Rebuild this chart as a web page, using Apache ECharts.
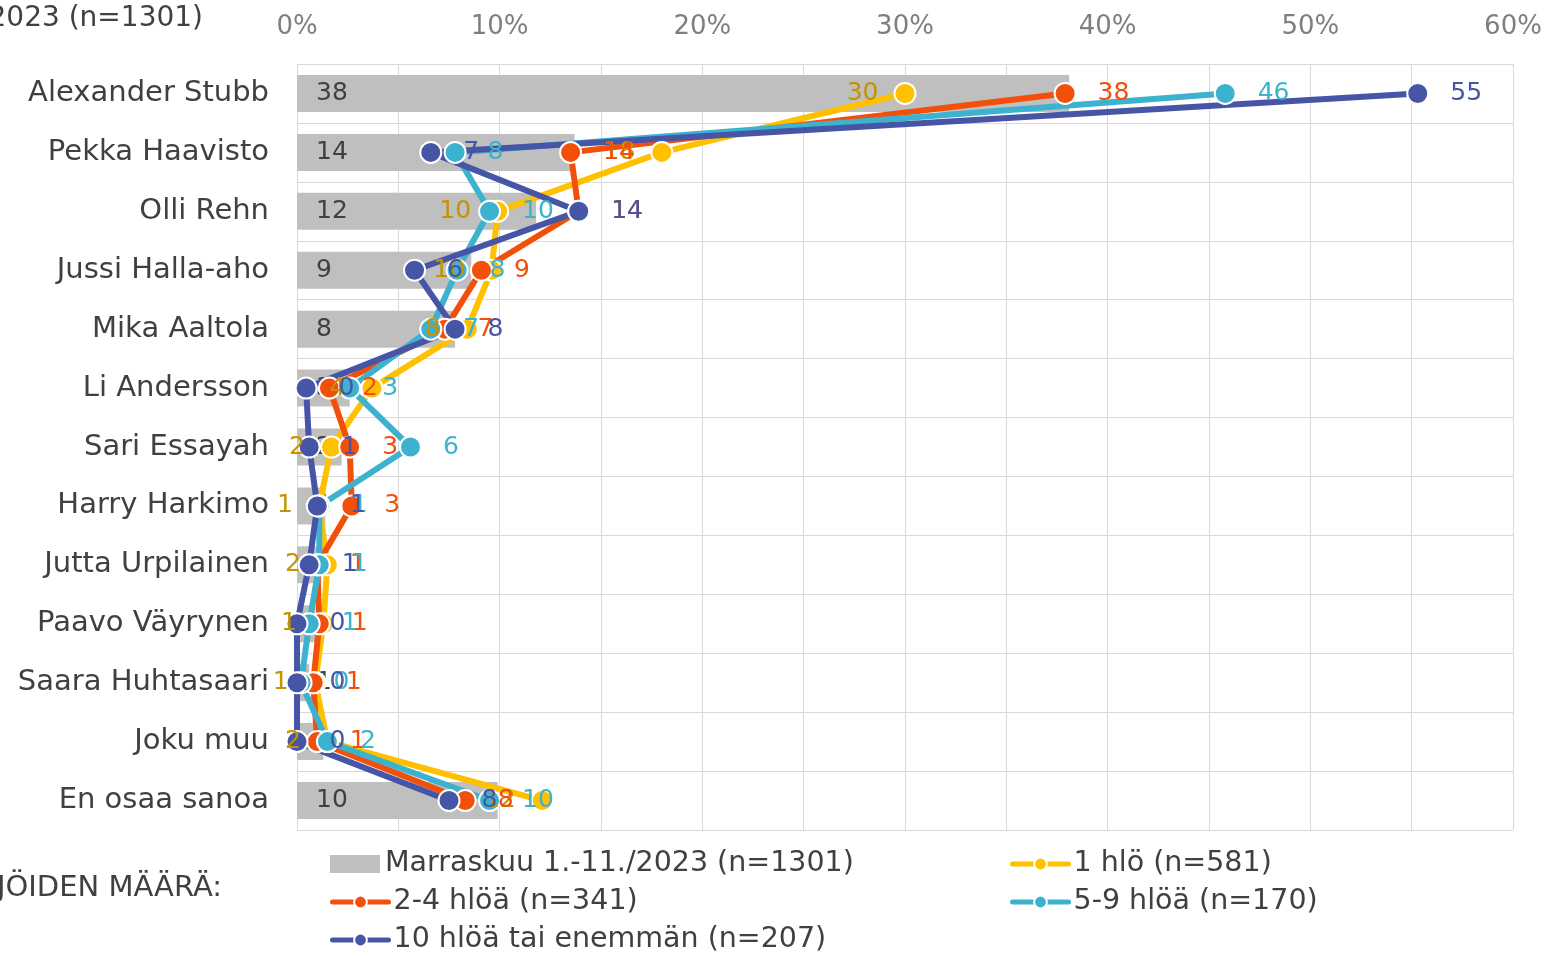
<!DOCTYPE html>
<html>
<head>
<meta charset="utf-8">
<script src="https://cdn.jsdelivr.net/npm/echarts@6/dist/echarts.min.js"></script>
<style>html,body{margin:0;padding:0;background:#fff;}#chart{width:1547px;height:956px;}</style>
</head>
<body>
<div id="chart"></div>
<script>
const categories = ['Alexander Stubb','Pekka Haavisto','Olli Rehn','Jussi Halla-aho','Mika Aaltola','Li Andersson','Sari Essayah','Harry Harkimo','Jutta Urpilainen','Paavo Väyrynen','Saara Huhtasaari','Joku muu','En osaa sanoa'];
const totalName = 'Marraskuu 1.-11./2023 (n=1301)';
const total = [38.1, 13.7, 11.8, 8.6, 7.8, 2.6, 2.2, 1.4, 1.2, 0.9, 0.6, 1.3, 9.9];
const s1Name = '1 hlö (n=581)';
const s1 = [30.0, 18.0, 9.9, 9.6, 8.4, 3.7, 1.7, 1.1, 1.5, 1.3, 0.9, 1.5, 12.1];
const s2Name = '2-4 hlöä (n=341)';
const s2 = [37.9, 13.5, 13.9, 9.1, 7.3, 1.6, 2.6, 2.7, 1.0, 1.1, 0.8, 1.0, 8.3];
const s3Name = '5-9 hlöä (n=170)';
const s3 = [45.8, 7.8, 9.5, 7.9, 6.6, 2.6, 5.6, 1.1, 1.1, 0.6, 0.2, 1.5, 9.5];
const s4Name = '10 hlöä tai enemmän (n=207)';
const s4 = [55.3, 6.6, 13.9, 5.8, 7.8, 0.45, 0.6, 1.0, 0.6, 0.0, 0.0, 0.0, 7.5];
const xTicks = [0, 10, 20, 30, 40, 50, 60];

const FONT = 'DejaVu Sans';
const chart = echarts.init(document.getElementById('chart'));

function lineSeries(name, vals, color, labelColor, pos, dist) {
  return {
    type: 'line', name: name,
    data: vals.map((v, i) => [v, categories[i]]),
    symbol: 'circle', symbolSize: 21,
    lineStyle: { color: color, width: 6 },
    itemStyle: { color: color, borderColor: '#fff', borderWidth: 2 },
    label: {
      show: true, position: pos, distance: dist,
      color: labelColor, fontFamily: FONT, fontSize: 25,
      formatter: p => Math.round(p.value[0])
    },
    emphasis: { disabled: true },
    animation: false
  };
}

function legendAt(name, left, top, isBar) {
  return {
    data: [name], left: left, top: top, orient: 'horizontal', padding: 0,
    itemWidth: isBar ? 50 : 56, itemHeight: isBar ? 18 : 16,
    icon: isBar ? 'rect' : undefined,
    lineStyle: { width: 5, cap: 'round' },
    textStyle: { fontFamily: FONT, fontSize: 28.5, color: '#404040', lineHeight: 30 },
    selectedMode: false
  };
}

chart.setOption({
  animation: false,
  grid: { left: 297, right: 34, top: 64, bottom: 126, containLabel: false },
  xAxis: {
    type: 'value', position: 'top', min: 0, max: 60, interval: 5,
    axisLine: { show: false }, axisTick: { show: false },
    axisLabel: {
      fontFamily: FONT, fontSize: 26, color: '#7F7F7F', margin: 24,
      formatter: v => xTicks.indexOf(v) >= 0 ? v + '%' : ''
    },
    splitLine: { show: true, lineStyle: { color: '#D9D9D9', width: 1 } }
  },
  yAxis: {
    type: 'category', data: categories, inverse: true,
    axisLine: { show: false }, axisTick: { show: false },
    axisLabel: { fontFamily: FONT, fontSize: 29, color: '#404040', margin: 28 },
    splitLine: { show: true, interval: 0, lineStyle: { color: '#D9D9D9', width: 1 } }
  },
  legend: [
    legendAt(totalName, 330, 849, true),
    legendAt(s1Name, 1010, 849, false),
    legendAt(s2Name, 330, 887, false),
    legendAt(s3Name, 1010, 887, false),
    legendAt(s4Name, 330, 925, false)
  ],
  graphic: [
    { type: 'text', x: 203, y: 19,
      style: { text: 'Marraskuu 1.-11./2023 (n=1301)', fill: '#404040', font: '28px "DejaVu Sans"', textAlign: 'right', textVerticalAlign: 'middle' } },
    { type: 'text', x: 222, y: 888,
      style: { text: 'TYÖNTEKIJÖIDEN MÄÄRÄ:', fill: '#404040', font: '29px "DejaVu Sans"', textAlign: 'right', textVerticalAlign: 'middle' } }
  ],
  series: [
    {
      type: 'bar', name: totalName, data: total, barWidth: 37,
      itemStyle: { color: '#BFBFBF' },
      label: { show: true, position: 'insideLeft', distance: 19, color: '#404040', fontFamily: FONT, fontSize: 25,
               formatter: p => Math.round(p.value) },
      emphasis: { disabled: true }
    },
    lineSeries(s1Name, s1, '#FFC000', '#C49300', 'left', 15),
    lineSeries(s2Name, s2, '#F2500A', '#F2500A', 'right', 21),
    lineSeries(s3Name, s3, '#3DB2CE', '#3DB2CE', 'right', 21),
    lineSeries(s4Name, s4, '#4655A5', '#4655A5', 'right', 21)
  ]
});
</script>
</body>
</html>
